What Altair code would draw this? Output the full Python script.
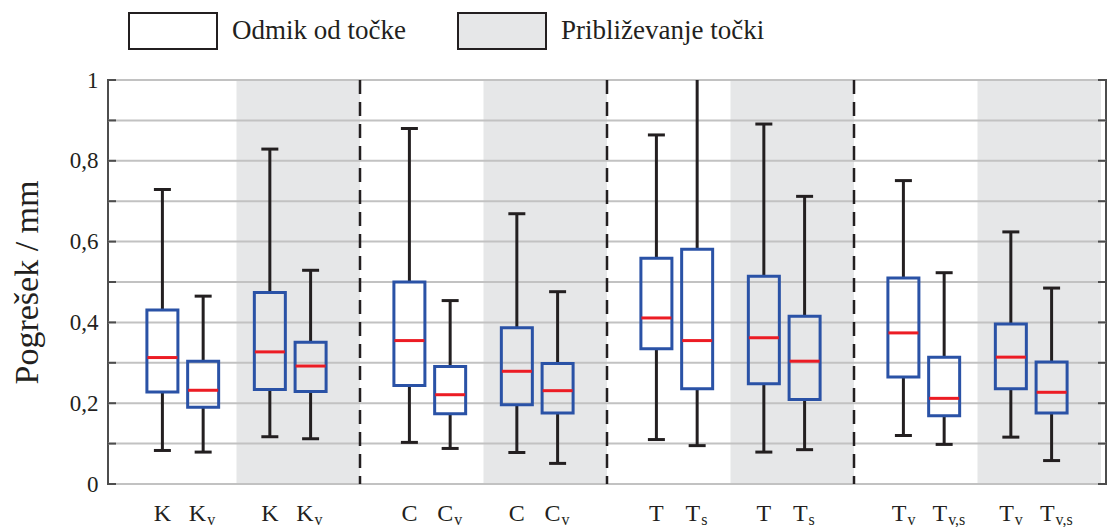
import altair as alt
import pandas as pd

# ---------------- data ----------------
labels_main = ["K", "K", "K", "K", "C", "C", "C", "C",
               "T", "T", "T", "T", "T", "T", "T", "T"]
labels_sub = ["", "v", "", "v", "", "v", "", "v",
              "", "s", "", "s", "v", "v,s", "v", "v,s"]
whisker_low = [0.083, 0.079, 0.117, 0.112, 0.103, 0.088, 0.078, 0.051,
               0.110, 0.095, 0.079, 0.085, 0.120, 0.098, 0.116, 0.058]
q1 = [0.228, 0.190, 0.234, 0.229, 0.244, 0.174, 0.196, 0.176,
      0.335, 0.236, 0.248, 0.209, 0.265, 0.169, 0.236, 0.176]
median = [0.313, 0.232, 0.327, 0.292, 0.355, 0.221, 0.279, 0.231,
          0.411, 0.355, 0.362, 0.304, 0.374, 0.212, 0.314, 0.227]
q3 = [0.431, 0.304, 0.474, 0.351, 0.500, 0.291, 0.387, 0.298,
      0.559, 0.581, 0.514, 0.415, 0.510, 0.314, 0.396, 0.302]
whisker_high = [0.729, 0.465, 0.829, 0.529, 0.880, 0.454, 0.669, 0.476,
                0.864, 1.040, 0.891, 0.712, 0.751, 0.523, 0.624, 0.485]
legend_labels = ["Odmik od točke", "Približevanje točki"]
y_ticks = [0.0, 0.1, 0.2, 0.3, 0.4, 0.5, 0.6, 0.7, 0.8, 0.9, 1.0]
n_sections = 4
slot_offsets = [0.2, 0.365, 0.635, 0.8]   # box slots within one section

# ---------------- tables ----------------
boxes = pd.DataFrame({
    "main": labels_main, "sub": labels_sub,
    "lo": whisker_low, "q1": q1, "med": median, "q3": q3, "hi": whisker_high,
})
boxes["pos"] = [i // 4 + slot_offsets[i % 4] for i in range(len(boxes))]

halves = pd.DataFrame({"h": list(range(2 * n_sections))})
halves["x"] = halves["h"] * 0.5
halves["x2"] = halves["h"] * 0.5 + 0.5
halves["kind"] = [legend_labels[h % 2] for h in halves["h"]]

dividers = pd.DataFrame({"d": list(range(1, n_sections))})
ticks = pd.DataFrame({"t": y_ticks})

W, H = 998, 404
FONT = "Liberation Serif"
INK = "#231f20"
BLUE = "#2a52a6"
RED = "#ec1c24"
GREY = "#e6e7e8"

xs = alt.Scale(domain=[0, n_sections], nice=False, zero=False)
ys = alt.Scale(domain=[0, 1], nice=False)

X = alt.X("pos:Q", scale=xs, axis=None)

background = alt.Chart(halves).mark_rect().encode(
    x=alt.X("x:Q", scale=xs, axis=None),
    x2="x2:Q",
    y=alt.value(0),
    y2=alt.value(H),
    fill=alt.Fill(
        "kind:N",
        scale=alt.Scale(domain=legend_labels, range=["#ffffff", GREY]),
        legend=alt.Legend(
            title=None,
            orient="none",
            legendX=20,
            legendY=-94,
            direction="horizontal",
            symbolType="M-1,-0.409H1V0.409H-1Z",
            symbolSize=7744,
            symbolStrokeColor=INK,
            symbolStrokeWidth=2,
            symbolOpacity=1,
            labelFont=FONT,
            labelFontSize=27,
            labelColor=INK,
            labelOffset=14,
            columnPadding=48,
            padding=0,
            labelLimit=400,
        ),
    ),
)

grid = alt.Chart(ticks).mark_rule(color="#c2c2c2", strokeWidth=2).encode(
    y=alt.Y("t:Q", scale=ys,
            axis=alt.Axis(
                values=y_ticks,
                labelExpr="abs(datum.value*5 - round(datum.value*5)) < 0.001 ? "
                          "(datum.value == 0 ? '0' : datum.value == 1 ? '1' : "
                          "replace(format(datum.value, '.1f'), '.', ',')) : ''",
                labelFont=FONT, labelFontSize=23, labelColor=INK,
                labelPadding=10, tickSize=0, domain=False, grid=False,
                title="Pogrešek / mm", titleFont=FONT, titleFontSize=34,
                titleFontWeight="normal", titleColor=INK, titlePadding=25,
            )),
)

left_ticks = alt.Chart(ticks).mark_rule(color="#4d4d4d", strokeWidth=2).encode(
    y=alt.Y("t:Q", scale=ys), x=alt.value(0), x2=alt.value(8))
right_ticks = alt.Chart(ticks).mark_rule(color="#4d4d4d", strokeWidth=2).encode(
    y=alt.Y("t:Q", scale=ys), x=alt.value(W - 8), x2=alt.value(W))

divider_lines = alt.Chart(dividers).mark_rule(
    color=INK, strokeWidth=2.5, strokeDash=[14, 8]).encode(
    x=alt.X("d:Q", scale=xs, axis=None))

base = alt.Chart(boxes)

whisk_lo = base.mark_rule(color=INK, strokeWidth=3, clip=True).encode(
    x=X, y=alt.Y("lo:Q", scale=ys), y2="q1:Q")
whisk_hi = base.mark_rule(color=INK, strokeWidth=3, clip=True).encode(
    x=X, y=alt.Y("q3:Q", scale=ys), y2="hi:Q")
cap_lo = base.mark_tick(orient="horizontal", size=17, thickness=3,
                        color=INK, opacity=1, clip=True).encode(
    x=X, y=alt.Y("lo:Q", scale=ys))
cap_hi = base.mark_tick(orient="horizontal", size=17, thickness=3,
                        color=INK, opacity=1, clip=True).encode(
    x=X, y=alt.Y("hi:Q", scale=ys))
box = base.mark_bar(size=31, fillOpacity=0, stroke=BLUE, strokeWidth=3).encode(
    x=X, y=alt.Y("q1:Q", scale=ys), y2="q3:Q")
med = base.mark_tick(orient="horizontal", size=30, thickness=3,
                     color=RED, opacity=1).encode(
    x=X, y=alt.Y("med:Q", scale=ys))

lab_plain = base.transform_filter("datum.sub == ''").mark_text(
    font=FONT, fontSize=24, color=INK, align="center", baseline="alphabetic"
).encode(x=X, y=alt.value(H + 37), text="main:N")
lab_main = base.transform_filter("datum.sub != ''").mark_text(
    font=FONT, fontSize=24, color=INK, align="right", baseline="alphabetic", dx=3
).encode(x=X, y=alt.value(H + 37), text="main:N")
lab_sub = base.transform_filter("datum.sub != ''").mark_text(
    font=FONT, fontSize=16, color=INK, align="left", baseline="alphabetic", dx=4
).encode(x=X, y=alt.value(H + 41), text="sub:N")

chart = alt.layer(
    background, grid, left_ticks, right_ticks, divider_lines,
    whisk_lo, whisk_hi, cap_lo, cap_hi, box, med,
    lab_plain, lab_main, lab_sub,
).properties(
    width=W, height=H,
    padding={"left": 108, "top": 80, "right": 2, "bottom": 43},
    autosize=alt.AutoSizeParams(type="none"),
).configure_view(stroke="#4d4d4d", strokeWidth=2)

chart.save("out.html", embed_options={"renderer": "svg", "actions": False})
